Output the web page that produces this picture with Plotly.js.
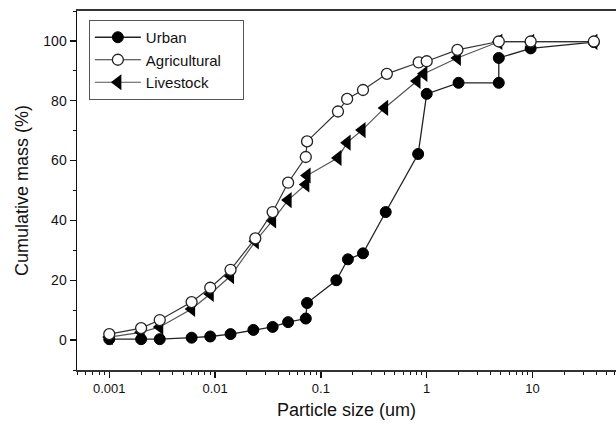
<!DOCTYPE html>
<html>
<head>
<meta charset="utf-8">
<script src="https://cdn.plot.ly/plotly-3.0.1.min.js"></script>
<style>html,body{margin:0;padding:0;background:#fff;}#chart{width:616px;height:431px;}</style>
</head>
<body>
<div id="chart"></div>
<script>
// Data
var urbanX = [0.001, 0.002, 0.003, 0.006, 0.009, 0.014, 0.023, 0.035, 0.049, 0.072, 0.074, 0.14, 0.18, 0.25, 0.41, 0.83, 1.0, 2.0, 4.8, 4.8, 9.6, 38];
var urbanY = [0.3, 0.3, 0.3, 0.8, 1.2, 2.0, 3.4, 4.4, 6.0, 7.2, 12.4, 20.0, 27.0, 29.0, 42.8, 62.2, 82.3, 86.0, 86.0, 94.3, 97.5, 99.6];

var agriX = [0.001, 0.002, 0.003, 0.006, 0.009, 0.014, 0.024, 0.035, 0.049, 0.072, 0.074, 0.145, 0.177, 0.25, 0.42, 0.84, 1.0, 1.95, 4.8, 9.6, 38];
var agriY = [2.0, 4.0, 6.7, 12.7, 17.5, 23.5, 34.0, 42.8, 52.6, 61.2, 66.4, 76.4, 80.6, 83.6, 89.0, 92.8, 93.2, 97.0, 99.8, 99.8, 99.8];

var liveX = [0.001, 0.002, 0.003, 0.006, 0.009, 0.014, 0.024, 0.035, 0.049, 0.072, 0.074, 0.145, 0.177, 0.245, 0.40, 0.81, 0.94, 1.95, 4.8, 9.6, 38];
var liveY = [1.0, 2.6, 4.4, 10.4, 15.4, 21.4, 33.0, 40.0, 46.8, 52.0, 55.0, 60.9, 66.0, 70.2, 77.6, 86.6, 89.0, 94.3, 99.7, 99.7, 99.7];

var xTickVals = [0.001, 0.01, 0.1, 1, 10];
var xTickText = ["0.001", "0.01", "0.1", "1", "10"];
var seriesNames = ["Urban", "Agricultural", "Livestock"];

// minor ticks 2..9 per decade (axis styling)
var minorVals = [];
for (var e = -4; e <= 1; e++) {
  for (var m = 2; m <= 9; m++) minorVals.push(m * Math.pow(10, e));
}
var pad = '\u00a0\u00a0\u00a0\u00a0';

var traces = [
  {x: urbanX, y: urbanY, name: seriesNames[0] + pad, legendrank: 1, type: 'scatter', mode: 'lines+markers',
   line: {color: '#222', width: 1.3},
   marker: {symbol: 'circle', size: 11, color: '#000', line: {color: '#000', width: 1}}},
  {x: liveX, y: liveY, name: seriesNames[2] + pad, legendrank: 3, type: 'scatter', mode: 'lines+markers',
   line: {color: '#555', width: 1.2},
   marker: {symbol: 'triangle-left', size: 14, color: '#000', line: {color: '#000', width: 0}}},
  {x: agriX, y: agriY, name: seriesNames[1] + pad, legendrank: 2, type: 'scatter', mode: 'lines+markers',
   line: {color: '#333', width: 1.2},
   marker: {symbol: 'circle', size: 11, color: '#fff', line: {color: '#222', width: 1.3}}}
];

var font = 'Arial, "Liberation Sans", sans-serif';
var layout = {
  width: 616, height: 431,
  margin: {l: 77, r: 0, t: 11, b: 61, pad: 0},
  paper_bgcolor: '#fff', plot_bgcolor: '#fff',
  showlegend: true,
  legend: {x: 0.022, y: 0.975, xanchor: 'left', yanchor: 'top',
           bgcolor: '#fff', bordercolor: '#555', borderwidth: 1,
           font: {family: font, size: 15, color: '#111'},
           tracegroupgap: 0, itemwidth: 46, traceorder: 'normal'},
  xaxis: {
    type: 'log', range: [-3.305, 1.789],
    tickmode: 'array', tickvals: xTickVals, ticktext: xTickText,
    ticks: 'outside', ticklen: 6, tickwidth: 1.3, tickcolor: '#111',
    minor: {tickmode: 'array', tickvals: minorVals, ticks: 'outside', ticklen: 3, tickwidth: 1, tickcolor: '#111', showgrid: false},
    showline: true, linecolor: '#333', linewidth: 1.6, mirror: true,
    showgrid: false, zeroline: false,
    tickfont: {family: font, size: 13, color: '#111'},
    title: {text: 'Particle size (um)', font: {family: font, size: 18, color: '#111'}, standoff: 8}
  },
  yaxis: {
    range: [-10, 110],
    tickmode: 'linear', tick0: 0, dtick: 20,
    ticks: 'outside', ticklen: 6, tickwidth: 1.3, tickcolor: '#111',
    minor: {dtick: 10, tick0: 0, ticks: 'outside', ticklen: 3, tickwidth: 1, tickcolor: '#111', showgrid: false},
    showline: true, linecolor: '#111', linewidth: 1.5, mirror: false,
    showgrid: false, zeroline: false,
    tickfont: {family: font, size: 14, color: '#111'},
    title: {text: 'Cumulative mass (%)', font: {family: font, size: 18, color: '#111'}, standoff: 10}
  }
};

Plotly.newPlot('chart', traces, layout, {displayModeBar: false, staticPlot: true});
</script>
</body>
</html>
